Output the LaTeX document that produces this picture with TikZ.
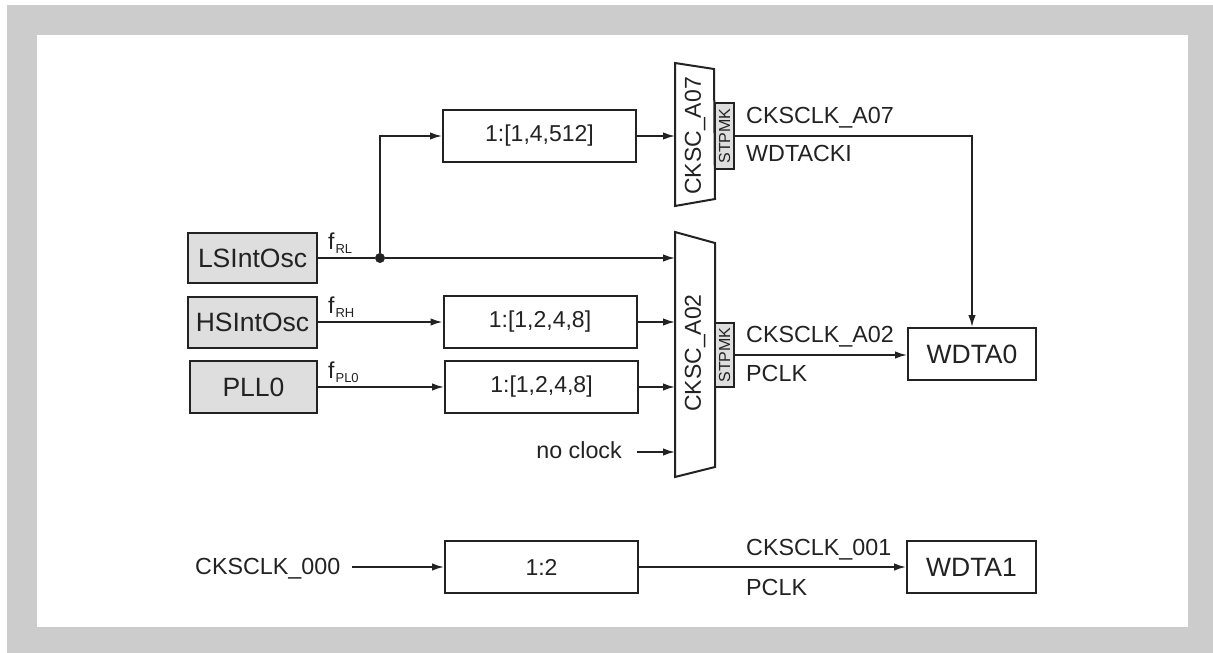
\documentclass[tikz,border=0pt]{standalone}
\usepackage{fontspec}
\setmainfont{Liberation Sans}
\usetikzlibrary{arrows.meta}
\definecolor{framegray}{HTML}{CCCCCC}
\definecolor{ink}{HTML}{222222}
\definecolor{boxfill}{HTML}{DEDEDE}
\begin{document}
\begin{tikzpicture}[x=1pt,y=-1pt,
  wire/.style={draw=ink,line width=1.7pt},
  arr/.style={wire,-{Latex[length=12pt,width=7.5pt]}},
  blk/.style={draw=ink,line width=2pt,minimum width=#1,minimum height=52pt,inner sep=0pt,
    font=\fontsize{26.5}{26.5}\selectfont,text=ink},
  blk/.default=129pt,
  divbox/.style={draw=ink,line width=2pt,minimum width=193pt,minimum height=52pt,inner sep=0pt,
    font=\fontsize{23}{23}\selectfont,text=ink},
  srcbox/.style={blk=#1,fill=boxfill},
  srcbox/.default=129pt,
  muxshape/.style={draw=ink,line width=2pt,fill=white},
  muxlabel/.style={rotate=90,inner sep=0pt,font=\fontsize{23}{23}\selectfont,text=ink},
  stpbox/.style={draw=ink,line width=1.2pt,fill=boxfill,minimum width=19pt,inner sep=0pt,
    font=\fontsize{16}{16}\selectfont,text=ink},
  lbl/.style={inner sep=0pt,font=\fontsize{23.3}{23.3}\selectfont,text=ink},
  flbl/.style={inner sep=0pt,anchor=base west,font=\fontsize{23}{23}\selectfont,text=ink},
  dotnode/.style={circle,fill=ink,draw=ink,minimum size=9.5pt,inner sep=0pt}
]
\useasboundingbox (0,0) rectangle (1213,653);
\fill[white] (0,0) rectangle (1213,653);
\fill[framegray] (7,5) rectangle (1213,653);
\fill[white] (37,35) rectangle (1188,627);

% sources
\node[srcbox=129pt,minimum height=50pt] (ls) at (252.5,258) {LSIntOsc};
\node[srcbox=129pt,minimum height=51pt] (hs) at (252.5,322.5) {HSIntOsc};
\node[srcbox=127pt,minimum height=52pt] (pll) at (253.5,387) {PLL0};

\node[flbl] (frl) at (328,249) {f\hspace{1pt}\raisebox{-4pt}{\fontsize{13}{13}\selectfont RL}};
\node[flbl] (frh) at (328,313) {f\hspace{1pt}\raisebox{-4pt}{\fontsize{13}{13}\selectfont RH}};
\node[flbl] (fpl) at (328,378) {f\hspace{1pt}\raisebox{-4pt}{\fontsize{13}{13}\selectfont PL0}};

% dividers
\node[divbox] (div7) at (539.5,136) {1:[1,4,512]};
\node[divbox] (divhs) at (540,322) {1:[1,2,4,8]};
\node[divbox] (divpll) at (541.5,387) {1:[1,2,4,8]};

% muxes
\draw[muxshape] (675,63) -- (714,69) -- (715,199) -- (675,206) -- cycle;
\node[muxlabel] (mux7) at (695,136) {CKSC\_A07};
\draw[muxshape] (675,232) -- (715,243) -- (715,467) -- (675,477) -- cycle;
\node[muxlabel] (mux2) at (695,353) {CKSC\_A02};

\node[stpbox,minimum height=66pt] (stp7) at (724.5,136) {\rotatebox{90}{STPMK}};
\node[stpbox,minimum height=64pt] (stp2) at (724.5,355) {\rotatebox{90}{STPMK}};

% mux input points
\coordinate (m7in) at (675,136);
\coordinate (m2inA) at (675,258);
\coordinate (m2inB) at (675,322);
\coordinate (m2inC) at (675,387);
\coordinate (m2inD) at (675,452);

% sinks
\node[blk=128pt] (wdta0) at (972,354) {WDTA0};
\node[blk=129pt] (wdta1) at (971.5,567) {WDTA1};
\node[divbox] (div12) at (541.5,567) {1:2};

% dot
\node[dotnode] (dot) at (380,258) {};

% connections
\draw[wire] (ls.east) -- (dot);
\draw[arr] (dot) -- (m2inA);
\draw[arr] (dot) |- (div7.west);
\draw[arr] (div7.east) -- (m7in);
\draw[arr] (hs.east |- divhs.west) -- (divhs.west);
\draw[arr] (divhs.east) -- (m2inB);
\draw[arr] (pll.east) -- (divpll.west);
\draw[arr] (divpll.east) -- (m2inC);

\node[lbl,anchor=base east] (noclk) at (622,458) {no clock};
\draw[arr,shorten <=15pt] (noclk.east |- m2inD) -- (m2inD);

% outputs
\coordinate (corner7) at (wdta0.north |- stp7.east);
\draw[arr] (stp7.east) -- (corner7) -- (wdta0.north);
\draw[arr] (stp2.east) -- (stp2.east -| wdta0.west);

\node[lbl,anchor=base west] (l7a) at (746,123) {CKSCLK\_A07};
\node[lbl,anchor=base west] (l7b) at (746,161) {WDTACKI};
\node[lbl,anchor=base west] (l2a) at (746,342) {CKSCLK\_A02};
\node[lbl,anchor=base west] (l2b) at (746,381) {PCLK};

% bottom chain
\node[lbl,anchor=base west] (c000) at (195,574) {CKSCLK\_000};
\draw[arr,shorten <=12pt] (c000.east |- div12.west) -- (div12.west);
\draw[arr] (div12.east) -- (wdta1.west);
\node[lbl,anchor=base west] (l1a) at (746,555) {CKSCLK\_001};
\node[lbl,anchor=base west] (l1b) at (746,595) {PCLK};
\end{tikzpicture}
\end{document}
